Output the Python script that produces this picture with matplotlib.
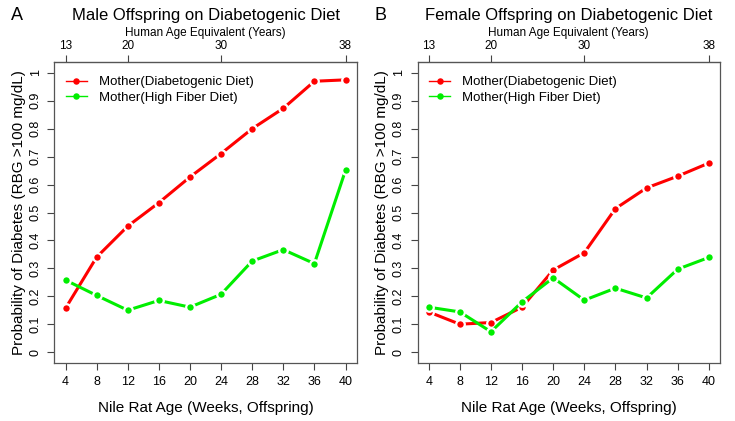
import matplotlib.pyplot as plt
import numpy as np

plt.rcParams['font.family'] = ['Liberation Sans', 'DejaVu Sans']

weeks = [4, 8, 12, 16, 20, 24, 28, 32, 36, 40]
human_ticks = [4, 12, 24, 40]          # week positions of human-age ticks
human_labels = ['13', '20', '30', '38']

male_diab = [0.157, 0.340, 0.451, 0.535, 0.627, 0.711, 0.800, 0.873, 0.970, 0.975]
male_fiber = [0.258, 0.203, 0.150, 0.185, 0.161, 0.207, 0.326, 0.367, 0.317, 0.651]
female_diab = [0.144, 0.100, 0.106, 0.161, 0.294, 0.356, 0.514, 0.588, 0.630, 0.677]
female_fiber = [0.161, 0.144, 0.073, 0.180, 0.266, 0.186, 0.229, 0.194, 0.297, 0.339]

fig = plt.figure(figsize=(7.35, 4.21), dpi=100)

W, H = 735, 421
panels = [
    (54.3, 356.7, 'A', 'Male Offspring on Diabetogenic Diet', male_diab, male_fiber),
    (417.5, 720.0, 'B', 'Female Offspring on Diabetogenic Diet', female_diab, female_fiber),
]
top, bottom = 61.7, 363.3

for x0, x1, letter, title, diab, fiber in panels:
    ax = fig.add_axes([x0 / W, 1 - bottom / H, (x1 - x0) / W, (bottom - top) / H])
    ax.plot(weeks, diab, color='#ff0000', lw=2.2, marker='o', ms=6.2,
            mec='white', mew=1.6, label='Mother(Diabetogenic Diet)')
    ax.plot(weeks, fiber, color='#00ee00', lw=2.2, marker='o', ms=6.2,
            mec='white', mew=1.6, label='Mother(High Fiber Diet)')
    ax.set_xlim(2.56, 41.44)
    ax.set_ylim(-0.04, 1.04)
    ax.set_xticks(weeks)
    ax.set_xticklabels([str(w) for w in weeks], fontsize=9)
    yt = np.round(np.arange(0, 1.01, 0.1), 1)
    ax.set_yticks(yt)
    ax.set_yticklabels(['0'] + ['%.1f' % v for v in yt[1:-1]] + ['1'],
                       fontsize=9, rotation=90, va='center')
    ax.tick_params(direction='out', length=5, width=0.8, color='#444444', pad=4)
    for s in ax.spines.values():
        s.set_color('#555555')
        s.set_linewidth(0.9)
    ax.set_xlabel('Nile Rat Age (Weeks, Offspring)', fontsize=11, labelpad=9.5)
    ax.set_ylabel('Probability of Diabetes (RBG >100 mg/dL)', fontsize=11, labelpad=3)

    sec = ax.secondary_xaxis('top')
    sec.set_xticks(human_ticks)
    sec.set_xticklabels(human_labels, fontsize=8.5)
    sec.tick_params(direction='out', length=5, width=0.8, color='#444444', pad=2)
    sec.set_xlabel('Human Age Equivalent (Years)', fontsize=8.5, labelpad=3)

    ax.set_title(title, fontsize=12, pad=30)
    fig.text((x0 - 43) / W, 1 - 15 / H, letter, fontsize=13, va='center', ha='left')

    leg = ax.legend(loc='upper left', frameon=False, fontsize=9.5,
                    handlelength=1.6, handletextpad=0.9, labelspacing=0.25,
                    borderaxespad=0.8, borderpad=0.3, markerscale=0.75,
                    bbox_to_anchor=(-0.01, 1.0))
    for h in leg.get_lines():
        h.set_linewidth(1.0)
        h.set_markeredgewidth(0)

fig.savefig('out.png', dpi=100)
